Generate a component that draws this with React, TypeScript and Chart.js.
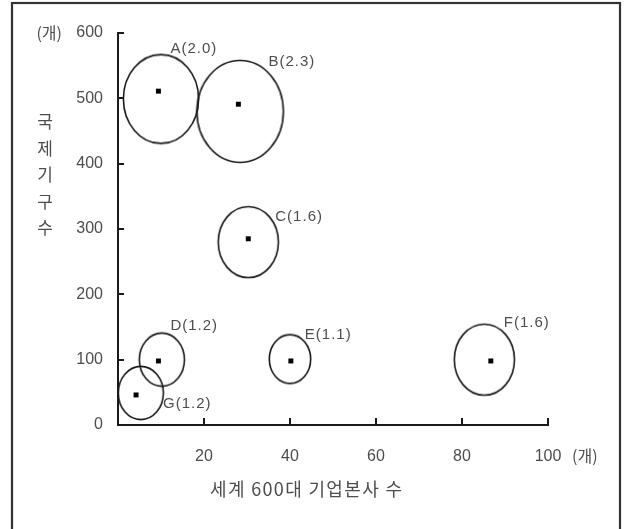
import React, { useEffect, useRef } from 'react';
import { Chart, registerables } from 'chart.js';

Chart.register(...registerables);

// ---- data ----
const names = ['A', 'B', 'C', 'D', 'E', 'F', 'G'];
const sizes = [2.0, 2.3, 1.6, 1.2, 1.1, 1.6, 1.2];
// centre markers (world top-600 HQ count, international organisations count)
const hqX = [9.4, 28.0, 30.3, 9.4, 40.2, 86.7, 4.2];
const orgY = [511, 491, 285, 98, 98, 98, 46];
// bubble outline centres
const circleX = [10.0, 28.4, 30.3, 10.2, 40.0, 85.2, 5.3];
const circleY = [499, 480, 280, 100, 101, 100, 49];
const xTicks = [20, 40, 60, 80, 100];
const yTicks = [0, 100, 200, 300, 400, 500, 600];
const xTitle = '세계 600대 기업본사 수';
const yTitle = '국제기구수';
const unit = '(개)';

// label offsets (px) relative to marker
const labelDX = [12, 30, 27, 12, 14, 13, 27];
const labelDY = [-42.5, -42, -21.5, -35, -26, -37.7, 9];

const FONT = "'Liberation Sans', Arial, 'Noto Sans CJK KR', sans-serif";
const KFONT = "'Noto Sans CJK KR', 'Liberation Sans', sans-serif";
const TEXT = '#4d4d4d';
const LINE = '#1a1a1a';

function makeEllipse(v: number): HTMLCanvasElement {
  const rx = 18.8 * v;
  const ry = 22.2 * v;
  const c = document.createElement('canvas');
  c.width = Math.ceil(rx * 2 + 4);
  c.height = Math.ceil(ry * 2 + 4);
  const g = c.getContext('2d')!;
  g.strokeStyle = LINE;
  g.lineWidth = 1.6;
  g.beginPath();
  g.ellipse(c.width / 2, c.height / 2, rx, ry, 0, 0, Math.PI * 2);
  g.stroke();
  return c;
}

export default function App() {
  const ref = useRef<HTMLCanvasElement>(null);
  useEffect(() => {
    const canvas = ref.current!;
    const overlay = {
      id: 'overlay',
      afterDraw(chart: any) {
        const ctx = chart.ctx as CanvasRenderingContext2D;
        const xs = chart.scales.x;
        const ys = chart.scales.y;
        const area = chart.chartArea;
        ctx.save();
        // frame
        ctx.strokeStyle = '#333';
        ctx.lineWidth = 2.2;
        ctx.strokeRect(12, 3, 608, 600);
        // inward ticks
        ctx.strokeStyle = LINE;
        ctx.lineWidth = 2;
        ctx.beginPath();
        yTicks.forEach((v) => {
          if (v === 0) return;
          const y = Math.round(ys.getPixelForValue(v));
          ctx.moveTo(area.left, y);
          ctx.lineTo(area.left + 6, y);
        });
        xTicks.forEach((v) => {
          const x = Math.round(xs.getPixelForValue(v));
          ctx.moveTo(x, area.bottom);
          ctx.lineTo(x, area.bottom - 7);
        });
        ctx.stroke();
        // units
        ctx.fillStyle = TEXT;
        ctx.font = `16px ${KFONT}`;
        ctx.textBaseline = 'middle';
        ctx.textAlign = 'right';
        ctx.fillText(unit, area.left - 56, ys.getPixelForValue(600));
        ctx.textAlign = 'left';
        ctx.fillText(unit, xs.getPixelForValue(100) + 24, area.bottom + 31);
        // y title, stacked
        ctx.textAlign = 'center';
        ctx.font = `17px ${KFONT}`;
        Array.from(yTitle).forEach((ch, i) => {
          ctx.fillText(ch, area.left - 73, 122 + i * 26.5);
        });
        // x title
        ctx.textAlign = 'left';
        ctx.font = `18px ${KFONT}`;
        const w = ctx.measureText(xTitle).width;
        const n = Array.from(xTitle).length;
        (ctx as any).letterSpacing = `${Math.max(0, (192 - w) / (n - 1))}px`;
        ctx.fillText(xTitle, 210, area.bottom + 64);
        // point labels
        ctx.font = `15px ${FONT}`;
        (ctx as any).letterSpacing = '1px';
        names.forEach((nm, i) => {
          const px = xs.getPixelForValue(hqX[i]);
          const py = ys.getPixelForValue(orgY[i]);
          ctx.fillText(`${nm}(${sizes[i].toFixed(1)})`, px + labelDX[i], py + labelDY[i]);
        });
        ctx.restore();
      },
    };

    const chart = new Chart(canvas, {
      type: 'scatter',
      data: {
        datasets: [
          {
            label: 'markers',
            data: hqX.map((x, i) => ({ x, y: orgY[i] })),
            pointStyle: 'rect',
            pointRadius: 3.5,
            backgroundColor: '#000',
            borderColor: '#000',
            borderWidth: 0,
          },
          {
            label: 'bubbles',
            data: circleX.map((x, i) => ({ x, y: circleY[i] })),
            pointStyle: sizes.map((v) => makeEllipse(v)) as any,
            pointRadius: 10,
          },
        ],
      },
      options: {
        responsive: false,
        animation: false,
        events: [],
        layout: { padding: { left: 0, right: 81, top: 33, bottom: 0 } },
        plugins: { legend: { display: false }, tooltip: { enabled: false } },
        scales: {
          x: {
            type: 'linear',
            min: 0,
            max: 100,
            afterFit: (s: any) => {
              s.height = 104;
            },
            afterBuildTicks: (s: any) => {
              s.ticks = xTicks.map((v) => ({ value: v }));
            },
            ticks: {
              color: TEXT,
              font: { family: FONT, size: 16 },
              padding: 22,
              maxRotation: 0,
            },
            grid: { display: false, drawTicks: false },
            border: { display: true, color: LINE, width: 2 },
          },
          y: {
            type: 'linear',
            min: 0,
            max: 600,
            afterFit: (s: any) => {
              s.width = 118;
            },
            afterBuildTicks: (s: any) => {
              s.ticks = yTicks.map((v) => ({ value: v }));
            },
            ticks: {
              color: TEXT,
              font: { family: FONT, size: 16 },
              padding: 15,
            },
            grid: { display: false, drawTicks: false },
            border: { display: true, color: LINE, width: 2 },
          },
        },
      },
      plugins: [overlay],
    });
    return () => chart.destroy();
  }, []);

  return (
    <canvas
      ref={ref}
      width={629}
      height={529}
      style={{ position: 'fixed', left: 0, top: 0, width: 629, height: 529, background: '#fff' }}
    />
  );
}
